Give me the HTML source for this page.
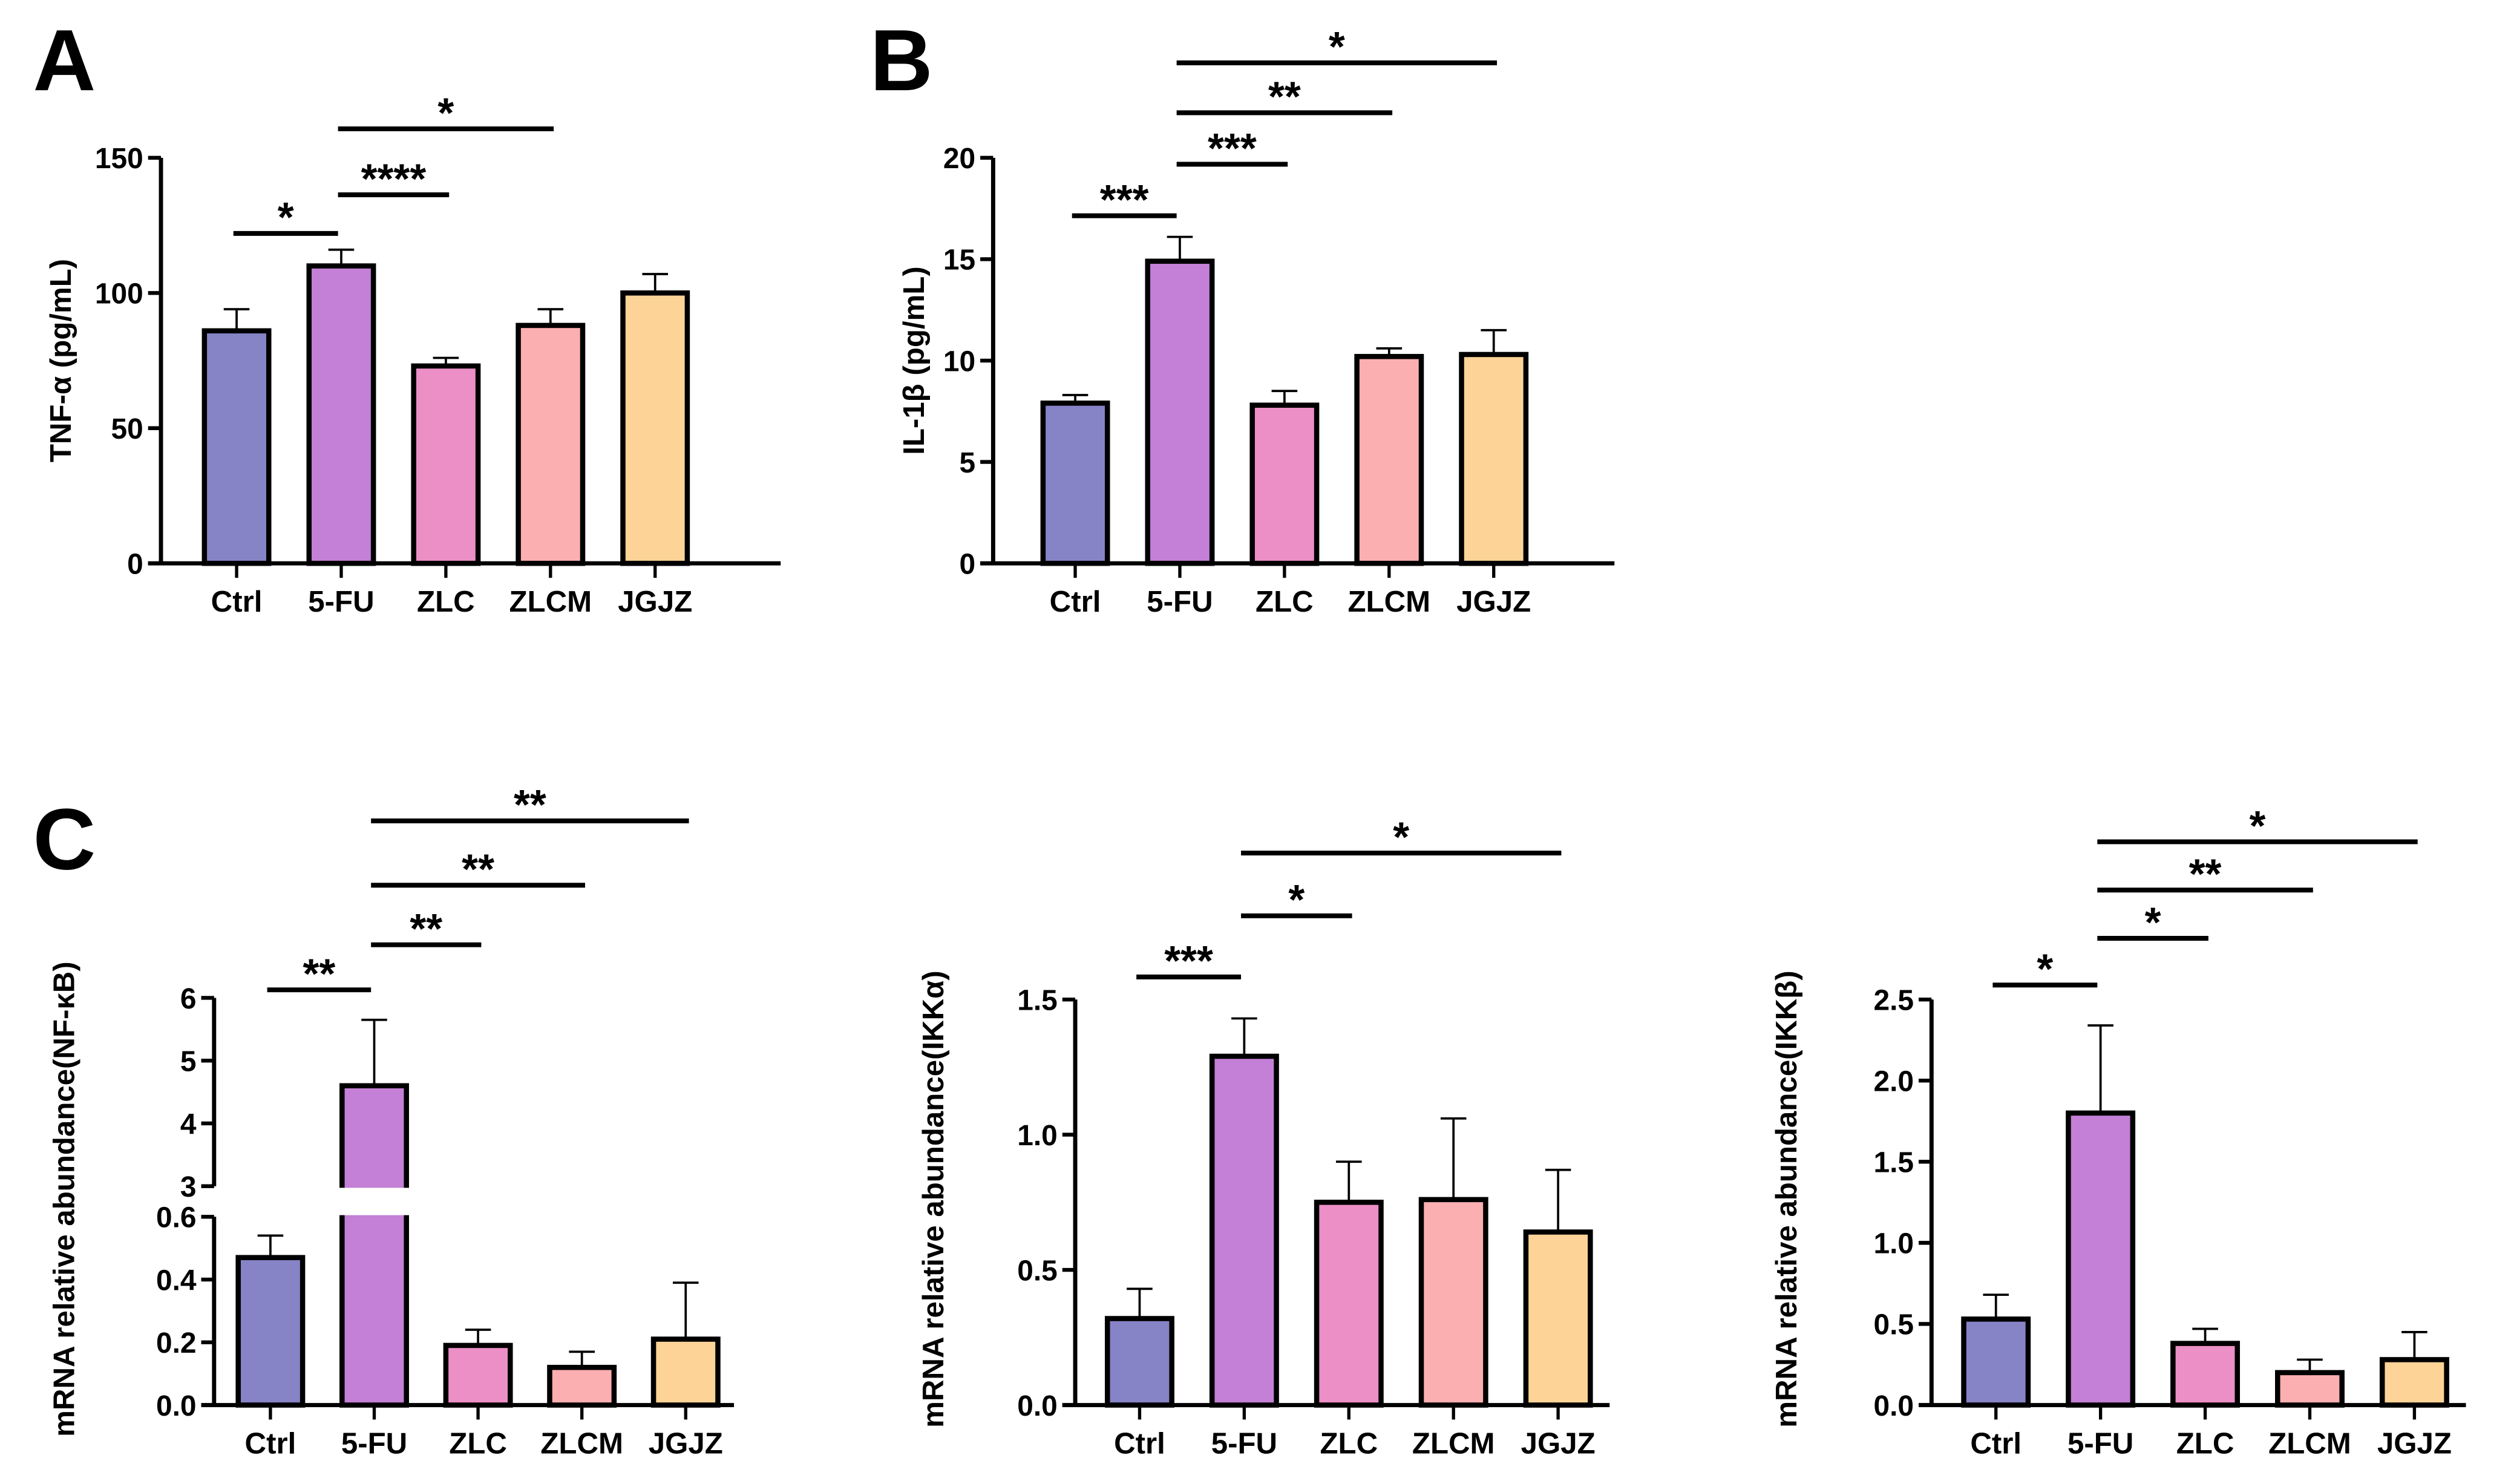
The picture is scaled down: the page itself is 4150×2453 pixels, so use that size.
<!DOCTYPE html>
<html><head><meta charset="utf-8"><style>
html,body{margin:0;padding:0;background:#fff;}
svg{display:block;}
text{font-family:"Liberation Sans",sans-serif;font-weight:bold;fill:#000;}
</style></head><body>
<svg id="fig" width="4150" height="2453" viewBox="0 0 1560 922" xmlns="http://www.w3.org/2000/svg">
<rect x="0" y="0" width="1560" height="922" fill="#fff"/>
</svg>
<script>
const categories = ["Ctrl","5-FU","ZLC","ZLCM","JGJZ"];
const colors = ["#8683c6","#c47fd6","#ec8fc6","#fcafb0","#fdd397"];
// Panel A TNF-a
const aValues = [86, 110, 73, 88, 100];
const aErrors = [94, 116, 76, 94, 107];
const aTicks = [0, 50, 100, 150];
const aSig = [[0,1,"*"],[1,2,"****"],[1,3,"*"]];
// Panel B IL-1b
const bValues = [7.9, 14.9, 7.8, 10.2, 10.3];
const bErrors = [8.3, 16.1, 8.5, 10.6, 11.5];
const bTicks = [0, 5, 10, 15, 20];
const bSig = [[0,1,"***"],[1,2,"***"],[1,3,"**"],[1,4,"*"]];
// Panel C1 NF-kB (broken axis)
const c1Values = [0.47, 4.6, 0.19, 0.12, 0.21];
const c1Errors = [0.54, 5.65, 0.24, 0.17, 0.39];
const c1TicksLow = [0, 0.2, 0.4, 0.6];
const c1TickLabelsLow = ["0.0","0.2","0.4","0.6"];
const c1TicksHigh = [3, 4, 5, 6];
const c1Sig = [[0,1,"**"],[1,2,"**"],[1,3,"**"],[1,4,"**"]];
// Panel C2 IKKa
const c2Values = [0.32, 1.29, 0.75, 0.76, 0.64];
const c2Errors = [0.43, 1.43, 0.90, 1.06, 0.87];
const c2Ticks = [0, 0.5, 1.0, 1.5];
const c2Sig = [[0,1,"***"],[1,2,"*"],[1,4,"*"]];
// Panel C3 IKKb
const c3Values = [0.53, 1.80, 0.38, 0.20, 0.28];
const c3Errors = [0.68, 2.34, 0.47, 0.28, 0.45];
const c3Ticks = [0, 0.5, 1.0, 1.5, 2.0, 2.5];
const c3Sig = [[0,1,"*"],[1,2,"*"],[1,3,"**"],[1,4,"*"]];

const svg = document.getElementById('fig');
const NS = "http://www.w3.org/2000/svg";
function mk(tag, attrs, parent){
  const e = document.createElementNS(NS, tag);
  for (const k in attrs) e.setAttribute(k, attrs[k]);
  (parent||svg).appendChild(e);
  return e;
}
function txt(s, x, y, size, anchor, parent, rot){
  const t = mk('text', {x:x, y:y, 'font-size':size, 'text-anchor':anchor||'middle'}, parent);
  if (rot) t.setAttribute('transform', 'rotate(-90 '+x+' '+y+')');
  t.textContent = s;
  return t;
}

function panel(cfg){
  const g = mk('g', {});
  
  
  const ax = cfg.axisX, y0 = cfg.y0;
  const xs = i => cfg.x0 + i*cfg.dx;
  const yScale = cfg.yScale;
  cfg.values.forEach((v,i)=>{
    const cx = xs(i), w = 40;
    const yt = yScale(v), ye = yScale(cfg.errors[i]);
    const eb = mk('line', {x1:cx, x2:cx, y1:yt, y2:ye, stroke:'#000','stroke-width':1.4}, g);
    
    
    mk('line', {x1:cx-8, x2:cx+8, y1:ye, y2:ye, stroke:'#000','stroke-width':1.4}, g);
    const r = mk('rect', {x:cx-w/2, y:yt, width:w, height:y0-yt, fill:colors[i], stroke:'#000','stroke-width':3.2}, g);
    
    
    if (cfg.breakGap && yt < cfg.breakGap[0]) {
      mk('rect', {x:cx-w/2-3, y:cfg.breakGap[0]+1, width:w+6, height:cfg.breakGap[1]-cfg.breakGap[0]-2, fill:'#fff'}, g);
    }
    mk('line', {x1:cx, x2:cx, y1:y0, y2:y0+9, stroke:'#000','stroke-width':2}, g);
    const lb = txt(categories[i], cx, y0+30, 18.5, 'middle', g);
    
    
  });
  const xa = mk('line', {x1:ax-8, x2:cfg.xEnd, y1:y0, y2:y0, stroke:'#000','stroke-width':2.6}, g);
  
  
  cfg.segments.forEach(s=>{
    const ya = mk('line', {x1:ax, x2:ax, y1:s[0], y2:s[1], stroke:'#000','stroke-width':2.6}, g);
    
    
  });
  cfg.ticks.forEach((t,i)=>{
    const y = yScale(t);
    mk('line', {x1:ax-8, x2:ax, y1:y, y2:y, stroke:'#000','stroke-width':2.4}, g);
    const tl = txt(cfg.tickLabels[i], ax-11, y+6.5, 18, 'end', g);
    
    
  });
  const yt = txt(cfg.title, cfg.titleX, cfg.titleY, 18.5, 'middle', g, true);
  
  
  cfg.sig.forEach((s,k)=>{
    const y = cfg.sigY[k];
    const x1 = xs(s[0]) - 2, x2 = xs(s[1]) + (s[0]===0 ? -2 : 2);
    const sl = mk('line', {x1:x1, x2:x2, y1:y, y2:y, stroke:'#000','stroke-width':3}, g);
    
    
    const st = txt(s[2], (x1+x2)/2, y-1, 26, 'middle', g);
    
    
  });
}

function lin(d0,d1,p0,p1){ return v => p0 + (v-d0)/(d1-d0)*(p1-p0); }

panel({name:'panel-a-tnf', axisX:100, y0:350, x0:147, dx:65, xEnd:485,
  values:aValues, errors:aErrors, ticks:aTicks, tickLabels:aTicks.map(String),
  yScale:lin(0,150,350,98), segments:[[98,351]],
  title:'TNF-α (pg/mL)', titleX:44, titleY:224, sig:aSig, sigY:[145,121,80]});
panel({name:'panel-b-il1b', axisX:617, y0:350, x0:668, dx:65, xEnd:1003,
  values:bValues, errors:bErrors, ticks:bTicks, tickLabels:bTicks.map(String),
  yScale:lin(0,20,350,98), segments:[[98,351]],
  title:'IL-1β (pg/mL)', titleX:574, titleY:224, sig:bSig, sigY:[134,102,70,39]});
const c1Scale = v => v <= 0.6 ? 873 - v/0.6*117 : 737 - (v-3)/3*117;
panel({name:'panel-c-nfkb', axisX:133, y0:873, x0:168, dx:64.5, xEnd:456,
  values:c1Values, errors:c1Errors, ticks:c1TicksLow.concat(c1TicksHigh),
  tickLabels:c1TickLabelsLow.concat(c1TicksHigh.map(String)),
  yScale:c1Scale, segments:[[620,737],[756,874]], breakGap:[737,756],
  title:'mRNA relative abundance(NF-κB)', titleX:46, titleY:745, sig:c1Sig, sigY:[615,587,550,510]});
panel({name:'panel-c-ikka', axisX:668, y0:873, x0:708, dx:65, xEnd:1000,
  values:c2Values, errors:c2Errors, ticks:c2Ticks, tickLabels:c2Ticks.map(v=>v.toFixed(1)),
  yScale:lin(0,1.5,873,621), segments:[[621,874]],
  title:'mRNA relative abundance(IKKα)', titleX:586, titleY:745, sig:c2Sig, sigY:[607,569,530]});
panel({name:'panel-c-ikkb', axisX:1200, y0:873, x0:1240, dx:65, xEnd:1532,
  values:c3Values, errors:c3Errors, ticks:c3Ticks, tickLabels:c3Ticks.map(v=>v.toFixed(1)),
  yScale:lin(0,2.5,873,621), segments:[[621,874]],
  title:'mRNA relative abundance(IKKβ)', titleX:1116, titleY:745, sig:c3Sig, sigY:[612,583,553,523]});

[["A",40,56],["B",560,56],["C",40,540]].forEach(p=>{
  const t = txt(p[0], p[1], p[2], 54, 'middle');
  
  
});
</script>
</body></html>
